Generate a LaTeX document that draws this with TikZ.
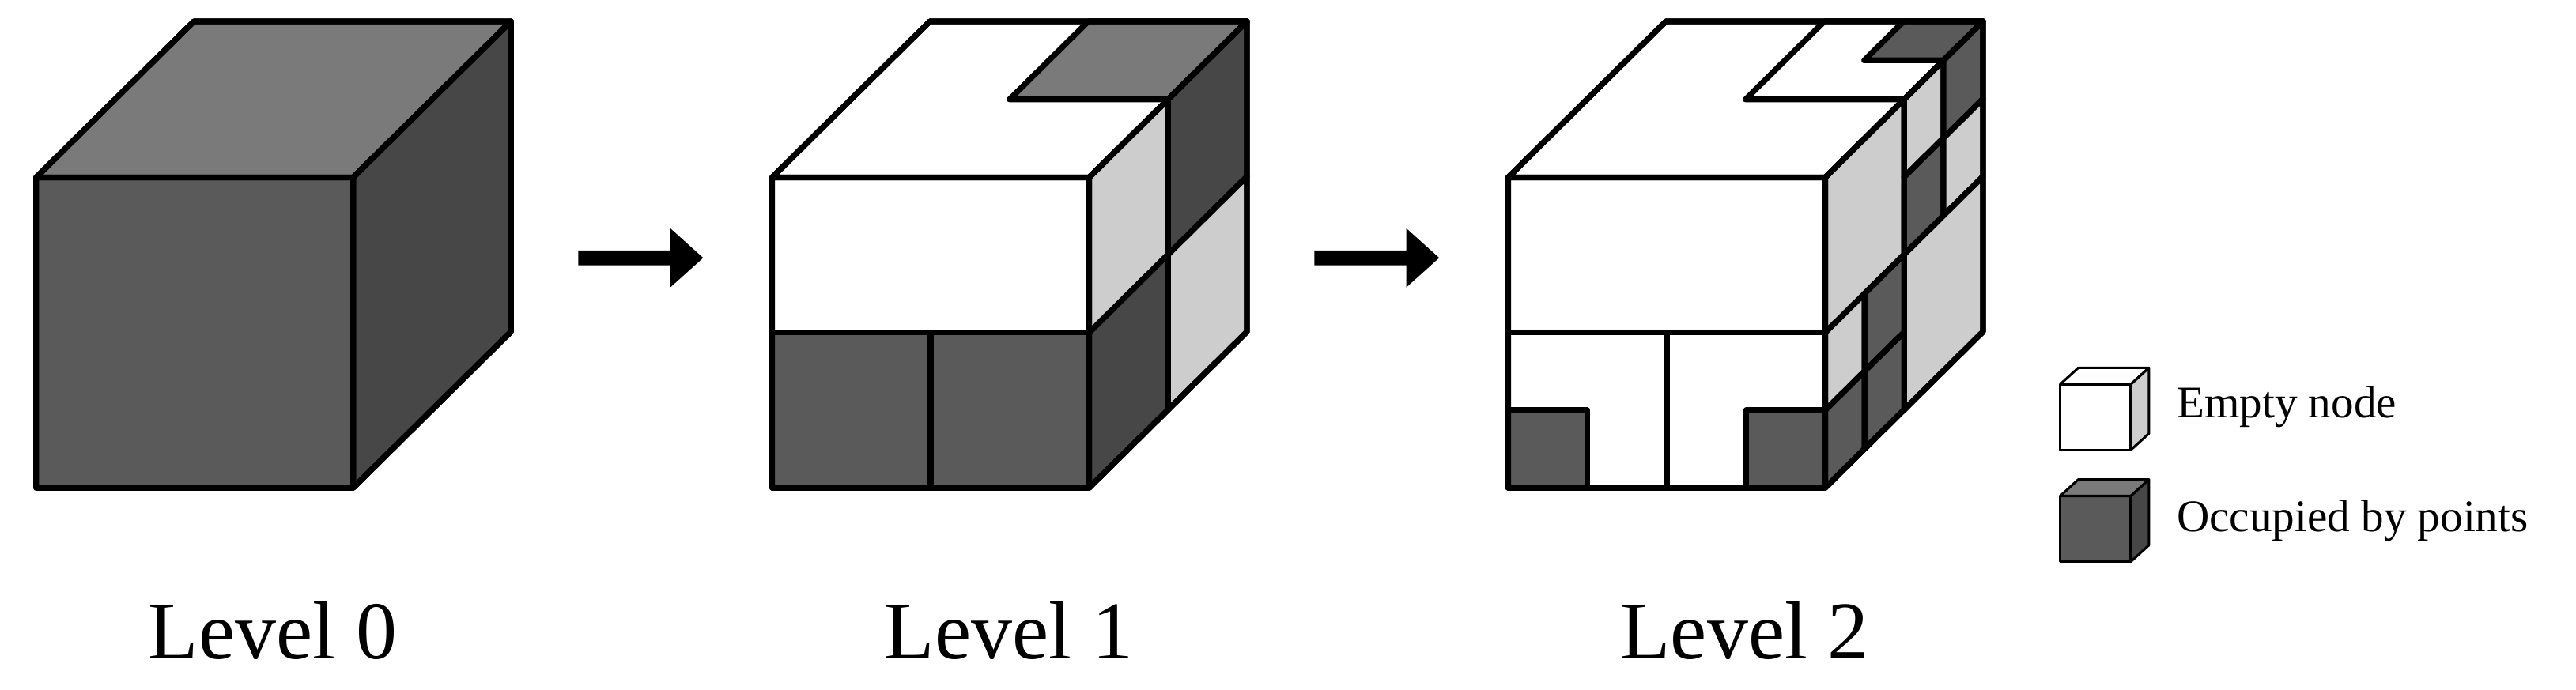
\documentclass[tikz,border=0pt]{standalone}
\usepackage{fontspec}
\setmainfont{Liberation Serif}
\definecolor{dk}{HTML}{5A5A5A}
\definecolor{dr}{HTML}{474747}
\definecolor{tp}{HTML}{7A7A7A}
\definecolor{lt}{HTML}{CDCDCD}
\newcommand\Pt[3]{({\cx+(#1)*\cw+(#3)*\cdx},{\cy+(#2)*\ch-(#3)*\cdy})}
\newcommand\FaceF[5]{\filldraw[fill=#5] \Pt{#1}{#3}{0} -- \Pt{#2}{#3}{0} -- \Pt{#2}{#4}{0} -- \Pt{#1}{#4}{0} -- cycle;}
\newcommand\FaceT[5]{\filldraw[fill=#5] \Pt{#1}{0}{#3} -- \Pt{#2}{0}{#3} -- \Pt{#2}{0}{#4} -- \Pt{#1}{0}{#4} -- cycle;}
\newcommand\FaceR[5]{\filldraw[fill=#5] \Pt{1}{#1}{#3} -- \Pt{1}{#2}{#3} -- \Pt{1}{#2}{#4} -- \Pt{1}{#1}{#4} -- cycle;}
\newcommand\Outline{\draw \Pt{0}{0}{0} -- \Pt{1}{0}{0} -- \Pt{1}{1}{0} -- \Pt{0}{1}{0} -- cycle
  \Pt{0}{0}{0} -- \Pt{0}{0}{1} -- \Pt{1}{0}{1} -- \Pt{1}{1}{1} -- \Pt{1}{1}{0} \Pt{1}{0}{0} -- \Pt{1}{0}{1};}
\newcommand\BigCube[1]{\def\cx{#1}\def\cy{108}\def\cw{193}\def\ch{189}\def\cdx{96}\def\cdy{95}}
\begin{document}
\begin{tikzpicture}[x=1pt,y=-1pt,line width=3.5pt,line join=round,
  lbl/.style={font=\fontsize{50}{54}\selectfont,anchor=base},
  leg/.style={font=\fontsize{27.5}{30}\selectfont,anchor=west},
  arr/.style={fill=black,draw=none}]
\useasboundingbox (0,0) rectangle (1568,420);
% Level 0
\BigCube{22}
\FaceF{0}{1}{0}{1}{dk}\FaceT{0}{1}{0}{1}{tp}\FaceR{0}{1}{0}{1}{dr}\Outline
% Level 1
\BigCube{470}
\FaceF{0}{1}{0}{0.5}{white}\FaceF{0}{0.5}{0.5}{1}{dk}\FaceF{0.5}{1}{0.5}{1}{dk}
\FaceT{0}{1}{0}{1}{white}\FaceT{0.5}{1}{0.5}{1}{tp}
\FaceR{0}{0.5}{0}{0.5}{lt}\FaceR{0}{0.5}{0.5}{1}{dr}\FaceR{0.5}{1}{0}{0.5}{dr}\FaceR{0.5}{1}{0.5}{1}{lt}
\Outline
% Level 2
\BigCube{918}
\FaceF{0}{1}{0}{0.5}{white}\FaceF{0}{0.5}{0.5}{1}{white}\FaceF{0.5}{1}{0.5}{1}{white}
\FaceF{0}{0.25}{0.75}{1}{dk}\FaceF{0.75}{1}{0.75}{1}{dk}
\FaceT{0}{1}{0}{1}{white}\FaceT{0.5}{1}{0.5}{1}{white}\FaceT{0.75}{1}{0.75}{1}{dk}
\FaceR{0}{0.5}{0}{0.5}{lt}
\FaceR{0}{0.25}{0.5}{0.75}{lt}\FaceR{0}{0.25}{0.75}{1}{dk}\FaceR{0.25}{0.5}{0.5}{0.75}{dk}\FaceR{0.25}{0.5}{0.75}{1}{lt}
\FaceR{0.5}{1}{0.5}{1}{lt}
\FaceR{0.5}{0.75}{0}{0.25}{lt}\FaceR{0.5}{0.75}{0.25}{0.5}{dk}\FaceR{0.75}{1}{0}{0.25}{dk}\FaceR{0.75}{1}{0.25}{0.5}{dk}
\Outline
% arrows
\fill[arr] (352,152.5) -- (408,152.5) -- (408,139) -- (428,157) -- (408,175) -- (408,161.5) -- (352,161.5) -- cycle;
\fill[arr] (800,152.5) -- (856,152.5) -- (856,139) -- (876,157) -- (856,175) -- (856,161.5) -- (800,161.5) -- cycle;
% labels
\node[lbl] (l0) at (166,401) {Level 0};
\node[lbl] (l1) at (614,401) {Level 1};
\node[lbl] (l2) at (1062,401) {Level 2};
% legend
\begin{scope}[line width=1.5pt]
\def\cx{1254}\def\cy{234}\def\cw{43}\def\ch{40}\def\cdx{11}\def\cdy{10}
\FaceF{0}{1}{0}{1}{white}\FaceT{0}{1}{0}{1}{white}\FaceR{0}{1}{0}{1}{lt}
\def\cy{302}
\FaceF{0}{1}{0}{1}{dk}\FaceT{0}{1}{0}{1}{tp}\FaceR{0}{1}{0}{1}{dr}
\end{scope}
\node[leg] (e) at (1320,248) {Empty node};
\node[leg] (o) at (1320,317) {Occupied by points};
\end{tikzpicture}
\end{document}
